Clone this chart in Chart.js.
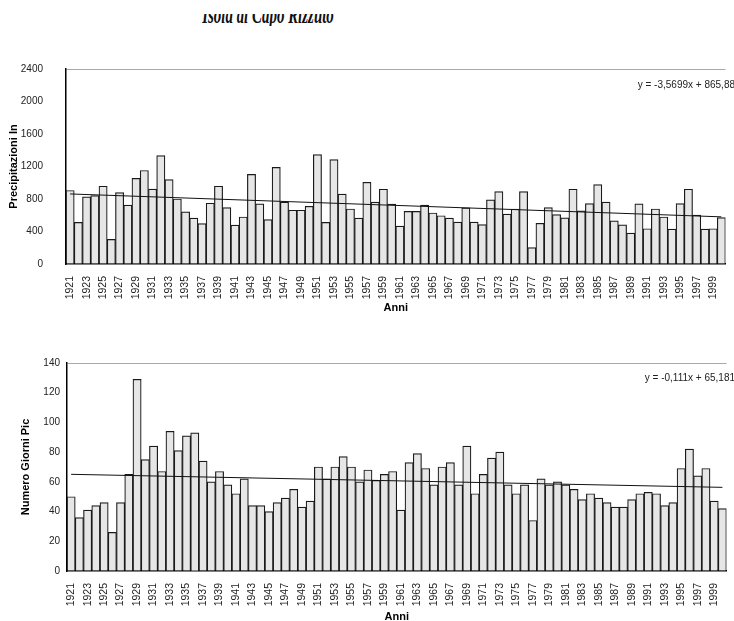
<!DOCTYPE html>
<html>
<head>
<meta charset="utf-8">
<script src="https://cdn.jsdelivr.net/npm/chart.js@4.4.0/dist/chart.umd.min.js"></script>
<style>
  body { margin: 0; width: 734px; height: 621px; overflow: hidden; background: #fff; }
  .box { position: absolute; }
  #titleClip { position: absolute; left: 0; top: 14px; width: 536px; height: 12px; overflow: hidden; }
  #titleClip div { position: relative; top: -12px; text-align: center; font: italic bold 26px "Liberation Serif", serif; line-height: 26px; color: #111; transform: scaleX(0.575); white-space: nowrap; }
</style>
</head>
<body>
<div id="titleClip"><div>Isola di Capo Rizzuto</div></div>
<div class="box" style="left:0;top:40px;width:738px;height:280px"><canvas id="chart-prec"></canvas></div>
<div class="box" style="left:1px;top:350px;width:738px;height:280px"><canvas id="chart-giorni"></canvas></div>
<script>
let years = [];
for (let y = 1921; y <= 2000; y++) years.push(String(y));

// precipitazioni annue (mm), 1921-2000
let precipitazioni = [
  905, 512, 826, 841, 957, 303, 878, 725, 1054, 1151,
  923, 1334, 1039, 800, 643, 564, 497, 748, 957, 695,
  478, 579, 1103, 740, 546, 1189, 763, 662, 662, 710,
  1346, 512, 1286, 860, 677, 564, 1006, 763, 920, 736,
  467, 647, 647, 725, 628, 594, 564, 516, 692, 516,
  486, 789, 890, 613, 677, 890, 202, 501, 695, 609,
  568, 920, 654, 744, 976, 763, 531, 482, 381, 740,
  434, 677, 579, 430, 744, 920, 602, 430, 434, 572
];

// numero giorni piovosi, 1921-2000
let giorniPioggia = [
  50, 36, 41, 44, 46, 26, 46, 65, 129, 75,
  84, 67, 94, 81, 91, 93, 74, 60, 67, 58,
  52, 62, 44, 44, 40, 46, 49, 55, 43, 47,
  70, 62, 70, 77, 70, 60, 68, 61, 65, 67,
  41, 73, 79, 69, 58, 70, 73, 58, 84, 52,
  65, 76, 80, 58, 52, 58, 34, 62, 58, 60,
  58, 55, 48, 52, 49, 46, 43, 43, 48, 52,
  53, 52, 44, 46, 69, 82, 64, 69, 47, 42
];

// linee di tendenza: valore al 1921 e al 2000
let trendPrec = [862.3, 580.3];
let trendGiorni = [65.07, 56.30];
let equazioni = ["y = -3,5699x + 865,88", "y = -0,111x + 65,181"];

const eqPlugin = {
  id: 'eq',
  afterDraw(chart) {
    const o = chart.options.plugins.eq;
    const ctx = chart.ctx;
    ctx.save();
    ctx.font = '10px "Liberation Sans", Arial, sans-serif';
    ctx.fillStyle = '#222';
    ctx.textAlign = 'right';
    ctx.textBaseline = 'middle';
    ctx.fillText(o.text, o.x, chart.chartArea.top + o.dy);
    ctx.restore();
  }
};

function trendData(ends) {
  return years.map((_, i) => i === 0 ? ends[0] : (i === years.length - 1 ? ends[1] : null));
}

function makeChart(id, values, trend, eq, cfg) {
  return new Chart(id, {
    type: 'bar',
    data: {
      labels: years,
      datasets: [
        {
          type: 'line',
          data: trendData(trend),
          borderColor: '#111',
          borderWidth: 1,
          pointRadius: 0,
          spanGaps: true,
          fill: false,
          order: 0
        },
        {
          data: values,
          backgroundColor: '#e6e6e6',
          borderColor: '#1a1a1a',
          borderWidth: 1.2,
          barPercentage: 1,
          categoryPercentage: 1,
          order: 1
        }
      ]
    },
    plugins: [eqPlugin],
    options: {
      responsive: true,
      maintainAspectRatio: false,
      animation: false,
      events: [],
      layout: { padding: { top: 10, left: 0, right: 0, bottom: 0 } },
      plugins: {
        legend: { display: false },
        tooltip: { enabled: false },
        eq: { text: eq, x: cfg.eqX, dy: cfg.eqDy }
      },
      scales: {
        x: {
          offset: true,
          grid: { display: false },
          border: { color: '#000', width: 1.5 },
          ticks: {
            autoSkip: false,
            minRotation: 90,
            maxRotation: 90,
            padding: 4,
            color: '#222',
            font: { family: '"Liberation Sans", Arial, sans-serif', size: 10.5 },
            callback: (v, i) => i % 2 === 0 ? years[i] : ''
          },
          title: {
            display: true,
            text: 'Anni',
            color: '#000',
            font: { family: '"Liberation Sans", Arial, sans-serif', size: 11, weight: 'bold' },
            padding: { top: 0, bottom: cfg.xTitlePad }
          },
          afterFit: s => { s.height = cfg.xHeight; }
        },
        y: {
          min: 0,
          max: cfg.yMax,
          ticks: {
            stepSize: cfg.step,
            padding: cfg.tickPad,
            color: '#222',
            font: { family: '"Liberation Sans", Arial, sans-serif', size: 10 },
            callback: v => String(v)
          },
          grid: {
            drawTicks: false,
            color: c => (c.tick && c.tick.value === cfg.yMax) ? '#a8a8a8' : 'transparent'
          },
          border: { color: '#000', width: 1.5 },
          title: {
            display: true,
            text: cfg.yTitle,
            color: '#000',
            font: { family: '"Liberation Sans", Arial, sans-serif', size: 11, weight: 'bold' },
            padding: { top: cfg.yTitlePad, bottom: 0 }
          },
          afterFit: s => { s.width = 66; }
        }
      }
    }
  });
}

makeChart('chart-prec', precipitazioni, trendPrec, equazioni[0], {
  yMax: 2400, step: 400, tickPad: 23, yTitle: 'Precipitazioni In', yTitlePad: 7,
  xHeight: 56, xTitlePad: 5, eqX: 735, eqDy: 16
});

makeChart('chart-giorni', giorniPioggia, trendGiorni, equazioni[1], {
  yMax: 140, step: 20, tickPad: 7, yTitle: 'Numero Giorni Pic', yTitlePad: 18,
  xHeight: 59, xTitlePad: 6, eqX: 734, eqDy: 15
});
</script>
</body>
</html>
